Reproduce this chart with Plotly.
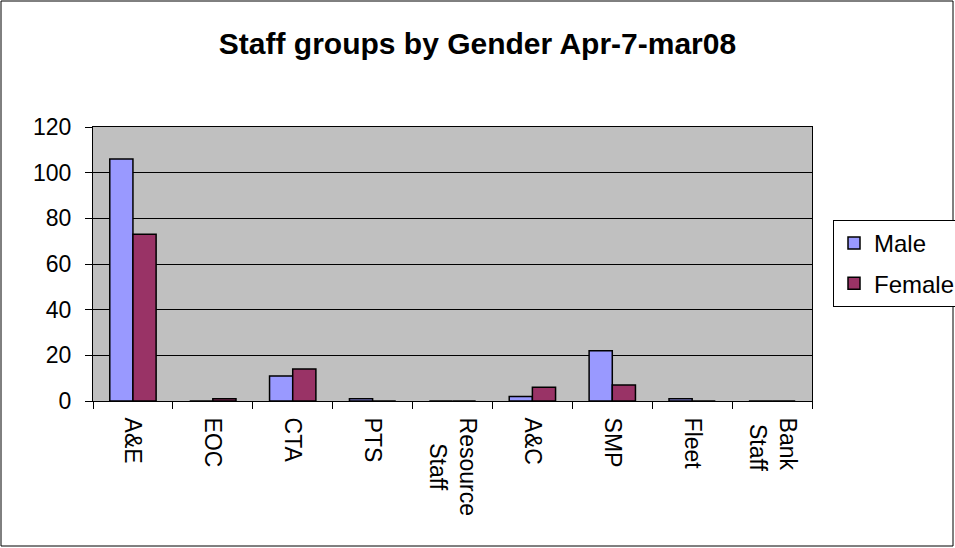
import plotly.graph_objects as go

categories = ["A&E", "EOC", "CTA", "PTS", "Resource Staff", "A&C", "SMP", "Fleet", "Bank Staff"]
tick_labels = ["A&E", "EOC", "CTA", "PTS", "Resource<br>\u00a0\u00a0\u00a0\u00a0Staff", "A&C", "SMP", "Fleet",
               "Bank<br>\u00a0Staff"]
male = [106, 0, 11, 1, 0, 2, 22, 1, 0]
female = [73, 1, 14, 0, 0, 6, 7, 0, 0]
y_ticks = [0, 20, 40, 60, 80, 100, 120]

W, H = 955, 548
L, R, T, B = 93, 143, 127, 147
pw, ph = W - L - R, H - T - B

fnt = "Liberation Sans, Arial, sans-serif"

fig = go.Figure()
fig.add_trace(go.Bar(x=categories, y=male, name="Male", legendgroup="m",
                     marker=dict(color="#9999FF", line=dict(color="black", width=1.5))))
fig.add_trace(go.Bar(x=categories, y=female, name="Female", legendgroup="f",
                     marker=dict(color="#993366", line=dict(color="black", width=1.5))))

fig.update_layout(
    width=W, height=H,
    margin=dict(l=L, r=R, t=T, b=B),
    paper_bgcolor="white",
    plot_bgcolor="#C0C0C0",
    font=dict(family=fnt, size=23, color="black"),
    barmode="group",
    bargap=0.42,
    bargroupgap=0,
    title=dict(text="<b>Staff groups by Gender Apr-7-mar08</b>", x=0.5, xanchor="center", xref="container",
               y=1 - 43 / H, yanchor="middle", yref="container", font=dict(size=30)),
    legend=dict(x=833 / W, y=1 - 220 / H, xref="container", yref="container",
                xanchor="left", yanchor="top",
                bordercolor="black", borderwidth=1, bgcolor="white",
                font=dict(size=24), tracegroupgap=6),
    showlegend=True,
)
fig.update_xaxes(tickvals=categories, ticktext=tick_labels,
                 showline=True, linecolor="black", linewidth=1, mirror=True,
                 ticks="outside", ticklen=7, tickcolor="black", tickson="boundaries",
                 tickangle=90, showgrid=False, ticklabelstandoff=11)
fig.update_yaxes(range=[0, 120], tickvals=y_ticks, showline=True, linecolor="black", linewidth=1,
                 mirror=True, ticks="outside", ticklen=7, tickcolor="black", ticklabelstandoff=9,
                 showgrid=True, gridcolor="black", gridwidth=1, zeroline=False)

fig.add_shape(type="rect", xref="paper", yref="paper",
              x0=(1 - L) / pw, x1=(953 - L) / pw, y0=-(B - 2) / ph, y1=1 + (T - 1) / ph,
              line=dict(color="black", width=1), layer="below")

fig.write_html("out.html", config={"displayModeBar": False},
               post_script="document.body.style.margin='0';")
